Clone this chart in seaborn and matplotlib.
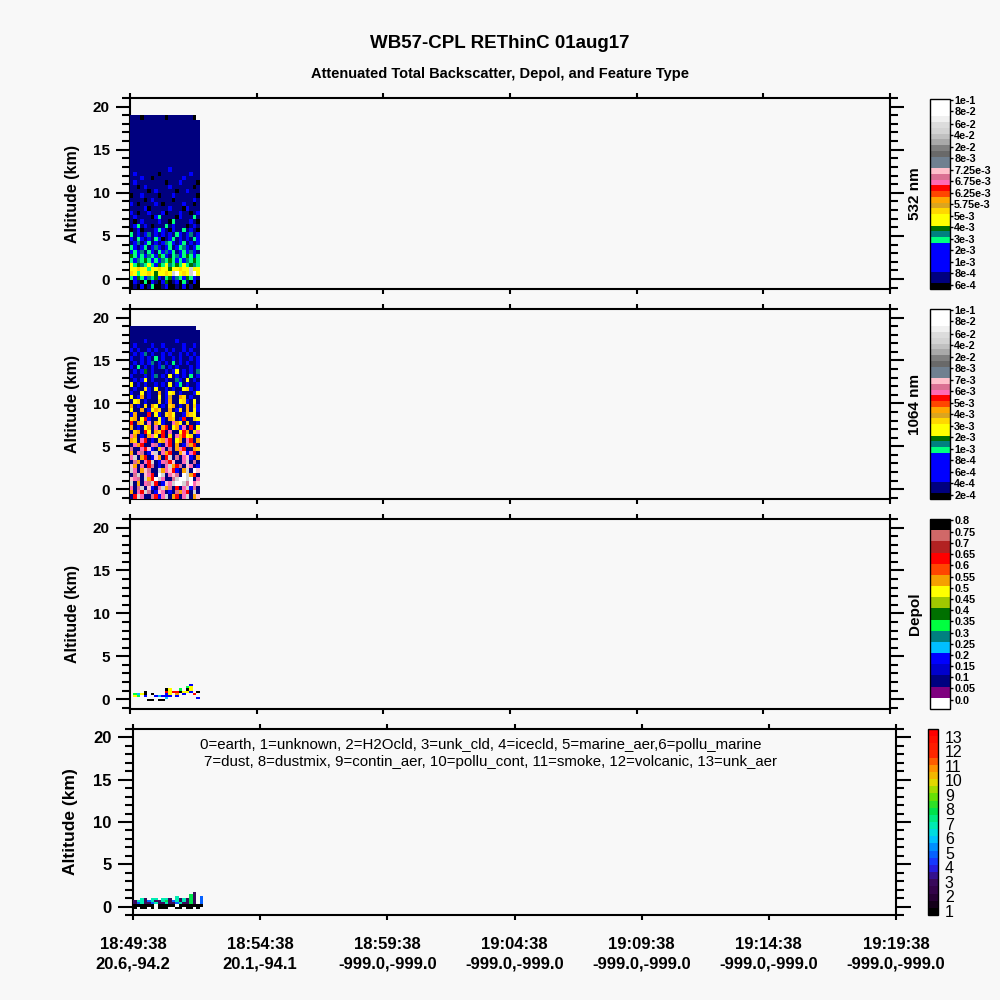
import numpy as np
import matplotlib
matplotlib.use("Agg")
import matplotlib.pyplot as plt
from matplotlib.colors import ListedColormap, LinearSegmentedColormap
from matplotlib.ticker import MultipleLocator
import seaborn as sns

# ---------------- data ----------------
tick_minutes = [0, 5, 10, 15, 20, 25, 30]          # minutes after 18:49:38
time_labels = ['18:49:38', '18:54:38', '18:59:38', '19:04:38',
               '19:09:38', '19:14:38', '19:19:38']
latlon_labels = ['20.6,-94.2', '20.1,-94.1', '-999.0,-999.0', '-999.0,-999.0',
                 '-999.0,-999.0', '-999.0,-999.0', '-999.0,-999.0']
curtain_end = 2.76      # last profile (minutes)
curtain_top = 19.0      # km
curtain_bottom = -1.1   # km

# backscatter colour-level codes, one string per altitude bin (top -> bottom)
bsc532_rows = [
    "nnnknnnnnnknnnnnnnk.", "nnnnnnnnnnnnnnnnnnnn", "nnnnnnnnnnnnnnnnnnnn",
    "nnnnnnnnnnnnnnnnnnnn", "nnnnnnnnnnnnnnnnnnnn", "nnnnnnnnnnnnnnnnnnnn",
    "nnnnnnnnnnnnnnnnnnnn", "nnnnnnnnnnnnnnnnnnnn", "nnnnnnnnnnnnnnnnnnnn",
    "nnnnnnnnnnnnnnnnnnnn", "nnnnnnnnnnnnnnnnnnnn", "nnnnnnnnnnnnnnnnnnnn",
    "nnnnnnnnnnnbnnnnnnnn", "nbnnnnnnknnnnnnnnbnn", "nnnbnnknnnnnnnnbnnnn",
    "nbnnnnnnnnknnnbnnnnk", "nnknbnnnnnnbnnnnnnkn", "nnnnnknbnnnnnknnbnnn",
    "knnbnnnnknnnbnnnnnnk", "nnnnknbnnnnnknnnnnbn", "bnknnnnbnknnnnnbnnkn",
    "nnnnbknnnnnbnnnkbnnn", "bnknnbnnnbknnnbnnknb", "nbnnnnkbsnnnnkbnnnsn",
    "nknbnnnnbnnksnnnnbnk", "nbsnbnknnnsnbnnnknbn", "knbknnnbsbnkbnnsnbnk",
    "snbnbtnbnbnbnsbnbtnb", "bnsbnbnsbknbsnbnbnsb", "nbtnbsnbnbtsbnbsnbnb",
    "sbnbsnbtbnbsnbstbnbs", "bsbtnsbnsbtbsnbsbtbn", "gsbsbtsbgsbnstbsgsbs",
    "sbtsgsbsbtsgsbsbtsgs", "ysgtsysbgsytsgsysgts", "yyoyysyyoyygyyoyycyy",
    "oysyyoygyyoycwyoycwy", "sbgsbtsgbnsgbtsbgsbn", "kbnkskbnkbgknbksnkbk",
    "knkbknskknbkknkbknkk",
]
bsc1064_rows = [
    "nnnnnnnnnnnnnnnnnnn.", "nnnnnnnnnnnnnnnnnnnn", "nnnnnnnnnnnnnnnnnnnn",
    "nnnnbnnnnnnnnbnnnnnn", "nbnnnnbnnbnnnnnbnnbn", "bnbnnbnbnnbnbnnbnbnn",
    "nbnbtnbnnbnbnnbnbnbn", "bnnbnbnsnbnnbnbnnbnb", "nbnbnbtnbnbnsnbnbnnb",
    "bnsnbnbnbtnbnbnnnbnb", "nbnbgnbnnnbnbynbnbnt", "bnnnbnbtnbnynbnbnsnb",
    "nbnbynbnnnbnntbnynbn", "ynbnbnnbnbnynbsnbnnb", "nbnnobnynnbnbnnyobnb",
    "bnnynbnnanbyonbnnnby", "ynbanbnnynbdnnaonbnn", "nyonbnnnonbannyobnyn",
    "anbnonaynbnoanbnanob", "ynnanbyaonnanbonanyb", "bannnRnybnoaynnbaoyn",
    "oanyRbnnybnaonbRnnoy", "Rnaonpnaybnnpaynonnb", "anbnyanpnaRnyabpnRny",
    "noanRynaoRnpnnyRanop", "panbnapynRnonpaRyonb", "aonpRnbnoapRnyanpRna",
    "npaRnnpvbnpRnanbvaRn", "vnnpRibnopnvnapRnnao", "anpvnbicnpaRnnaibpRn",
    "pcnaRnbianRcnvnpibna", "nvanpRcnbpvRinnpcnvn", "ianpnRvnbnpcaRvnipnb",
    "cpnaivnncapiRbnacnwi", "nvcnipRnwcnpivnwcaRn", "ipvncaRwcpnnvcwwcwnp",
    "cnanpvcRnbipcwwcvwpi", "pnvcnibnpcavnRnpcbvn", "anpRcvnbipnbnvapRncn",
    "nRcpnnvRbpcnaRnpcnai",
]
bsc_levels = {'k': 0, 'n': 1, 'b': 3, 's': 8, 't': 9, 'g': 10, 'y': 11,
              'o': 13, 'd': 14, 'a': 15, 'r': 16, 'R': 17, 'p': 18, 'v': 19,
              'i': 20, 'l': 21, 'm': 23, 'e': 25, 'c': 27, 'w': 31}

# depolarization level codes (0.25 km bins, 2.0 km -> -0.5 km)
depol_top, depol_bottom = 2.0, -0.5
depol_rows = [
    "....................",
    ".................4..",
    "................7a..",
    "..........ga..7.ga..",
    "....g.....daddgaa4.g",
    ".75ag.g...4a.b.4..d.",
    ".a7.4..45444.4......",
    "..........5........4",
    ".....gg.gg..........",
    "....................",
]
depol_levels = {str(i): i for i in range(10)}
depol_levels.update({'a': 10, 'b': 11, 'c': 12, 'd': 13, 'e': 14, 'f': 15, 'g': 16})

# feature type (0.25 km bins, 1.75 km -> -0.25 km), hex digit = type
ftype_top, ftype_bottom = 1.75, -0.25
ftype_rows = [
    ".................3..",
    "................83..",
    "............7...83.5",
    "..73.77.773.737383.5",
    "377357337835737383.5",
    "357335733733573383.5",
    "000000.00000.0000000",
    "0.00.0.000..00.00.0.",
]

bsc532_ticklabels = ['6e-4', '8e-4', '1e-3', '2e-3', '3e-3', '4e-3', '5e-3',
                     '5.75e-3', '6.25e-3', '6.75e-3', '7.25e-3', '8e-3',
                     '2e-2', '4e-2', '6e-2', '8e-2', '1e-1']
bsc1064_ticklabels = ['2e-4', '4e-4', '6e-4', '8e-4', '1e-3', '2e-3', '3e-3',
                      '4e-3', '5e-3', '6e-3', '7e-3', '8e-3',
                      '2e-2', '4e-2', '6e-2', '8e-2', '1e-1']
depol_ticklabels = ['0.0', '0.05', '0.1', '0.15', '0.2', '0.25', '0.3', '0.35',
                    '0.4', '0.45', '0.5', '0.55', '0.6', '0.65', '0.7', '0.75', '0.8']
ftype_ticks = list(range(1, 14))
ftype_legend = ["0=earth, 1=unknown, 2=H2Ocld, 3=unk_cld, 4=icecld, 5=marine_aer,6=pollu_marine",
                "7=dust, 8=dustmix, 9=contin_aer, 10=pollu_cont, 11=smoke, 12=volcanic, 13=unk_aer"]

# ---------------- colour tables ----------------
bsc_colors = (['#000000'] + ['#00007f'] * 2 + ['#0000ff'] * 5 +
              ['#00ff7f', '#008080', '#007000'] + ['#ffff00'] * 2 +
              ['#ffd700', '#daa520', '#ffa500', '#ff4500', '#ff0000',
               '#ff69b4', '#db7093', '#ffc0cb'] + ['#708090'] * 2 +
              ['#696969', '#808080', '#a9a9a9', '#c0c0c0', '#d3d3d3',
               '#dcdcdc', '#f0f0f0'] + ['#ffffff'] * 3)
bsc_cmap = ListedColormap(bsc_colors)
depol_colors = ['#ffffff', '#7f007f', '#000080', '#0000cd', '#0000ff', '#00bfff',
                '#008080', '#00ff40', '#007000', '#a0c800', '#ffff00', '#f5a000',
                '#ff4500', '#ff0000', '#b22222', '#d06868', '#000000']
depol_cmap = ListedColormap(depol_colors)
ft_lo, ft_hi = 0.7, 13.55
ft_anchor = [(0.7, '#000000'), (2.0, '#300040'), (3.0, '#3c0c64'), (4.0, '#2020ff'),
             (5.0, '#0070ff'), (6.0, '#00d0ff'), (7.0, '#00f0a8'), (8.0, '#00e040'),
             (9.0, '#70e000'), (10.0, '#e8d800'), (11.0, '#ff9000'), (12.0, '#ff2800'),
             (13.55, '#ff0000')]
ft_cmap = LinearSegmentedColormap.from_list(
    'ftype', [((v - ft_lo) / (ft_hi - ft_lo), c) for v, c in ft_anchor], N=26)

# ---------------- style ----------------
bg = '#f8f8f8'
sns.set_style("ticks", {"axes.edgecolor": "black", "xtick.color": "black",
                        "ytick.color": "black", "text.color": "black",
                        "axes.facecolor": bg, "figure.facecolor": bg})
plt.rcParams['font.family'] = ['Liberation Sans', 'DejaVu Sans']
plt.rcParams['font.weight'] = 'bold'


def to_matrix(rows, codes, offset):
    return np.array([[codes[ch] + offset if ch in codes else np.nan
                      for ch in row.ljust(20, '.')[:20]] for row in rows], dtype=float)


def style_axis(ax, ylo, yhi, ysize, ylen):
    ax.set_xlim(0, 30)
    ax.set_ylim(ylo, yhi)
    ax.set_xticks(tick_minutes)
    ax.yaxis.set_major_locator(MultipleLocator(5))
    ax.yaxis.set_minor_locator(MultipleLocator(1))
    ax.tick_params(axis='y', which='major', left=True, right=True, direction='out',
                   length=ylen, width=1.5, labelsize=ysize, pad=4.5)
    ax.tick_params(axis='y', which='minor', left=True, right=True, direction='out',
                   length=6, width=1.5)
    ax.tick_params(axis='x', which='major', top=True, bottom=True, direction='out',
                   length=3.5, width=1.5)
    for sp in ax.spines.values():
        sp.set_linewidth(1.5)
        sp.set_visible(True)


def draw_curtain(ax, cax, matrix, top, bottom, cmap, vmin, vmax):
    ins = ax.inset_axes([0, bottom, curtain_end, top - bottom], transform=ax.transData)
    sns.heatmap(matrix, ax=ins, cmap=cmap, vmin=vmin, vmax=vmax, cbar_ax=cax,
                xticklabels=False, yticklabels=False)
    ins.set_axis_off()
    cb = ins.collections[0].colorbar
    cb.outline.set_linewidth(1.0)
    cb.outline.set_edgecolor('black')
    return cb


fig = plt.figure(figsize=(10, 10), dpi=100)
ax1 = fig.add_axes([0.130, 0.711, 0.760, 0.191])
ax2 = fig.add_axes([0.130, 0.501, 0.760, 0.190])
ax3 = fig.add_axes([0.130, 0.291, 0.760, 0.190])
ax4 = fig.add_axes([0.133, 0.085, 0.763, 0.186])
cax1 = fig.add_axes([0.930, 0.711, 0.020, 0.190])
cax2 = fig.add_axes([0.930, 0.501, 0.020, 0.190])
cax3 = fig.add_axes([0.930, 0.291, 0.020, 0.190])
cax4 = fig.add_axes([0.928, 0.085, 0.010, 0.186])

for ax in (ax1, ax2, ax3):
    style_axis(ax, -1.15, 21.0, 11, 10)
    ax.tick_params(axis='x', labelbottom=False)
style_axis(ax4, -1.0, 21.0, 12, 11)
ax4.set_xticks(tick_minutes, [f'{t}\n{p}' for t, p in zip(time_labels, latlon_labels)])
ax4.tick_params(axis='x', labelsize=12, pad=12)
for lab in ax4.get_xticklabels():
    lab.set_linespacing(1.4)

# backscatter curtains
bsc_ticks = [0.7 + 2 * k for k in range(15)] + [30.95, 32.75]
cb1 = draw_curtain(ax1, cax1, to_matrix(bsc532_rows, bsc_levels, 0.5),
                   curtain_top, curtain_bottom, bsc_cmap, 0, 33)
cb1.set_ticks(bsc_ticks, labels=bsc532_ticklabels)
cb2 = draw_curtain(ax2, cax2, to_matrix(bsc1064_rows, bsc_levels, 0.5),
                   curtain_top, curtain_bottom, bsc_cmap, 0, 33)
cb2.set_ticks(bsc_ticks, labels=bsc1064_ticklabels)

# depol
cb3 = draw_curtain(ax3, cax3, to_matrix(depol_rows, depol_levels, 0.5),
                   depol_top, depol_bottom, depol_cmap, 0, 17)
cb3.set_ticks([0.84 + k for k in range(15)] + [15.8, 16.95], labels=depol_ticklabels)

# feature type
ft_codes = {format(i, 'x'): i for i in range(14)}
cb4 = draw_curtain(ax4, cax4, to_matrix(ftype_rows, ft_codes, 0),
                   ftype_top, ftype_bottom, ft_cmap, ft_lo, ft_hi)
cb4.set_ticks(ftype_ticks, labels=[str(v) for v in ftype_ticks])

for cb in (cb1, cb2, cb3):
    cb.ax.tick_params(labelsize=7.8, length=2, width=1, pad=1)
cb4.ax.tick_params(labelsize=11.5, length=0, pad=5)
for lab in cb4.ax.get_yticklabels():
    lab.set_fontweight('normal')

# text
fig.text(0.5, 0.957, 'WB57-CPL REThinC 01aug17', ha='center', va='center',
         fontsize=13.5, fontweight='bold')
fig.text(0.5, 0.926, 'Attenuated Total Backscatter, Depol, and Feature Type',
         ha='center', va='center', fontsize=10.5, fontweight='bold')
for yc in (0.806, 0.596, 0.386):
    fig.text(0.073, yc, 'Altitude (km)', rotation=90, ha='center', va='center',
             fontsize=11.5, fontweight='bold')
fig.text(0.0705, 0.178, 'Altitude (km)', rotation=90, ha='center', va='center',
         fontsize=12.5, fontweight='bold')
for name, yc in (('532 nm', 0.806), ('1064 nm', 0.596), ('Depol', 0.386)):
    fig.text(0.915, yc, name, rotation=90, ha='center', va='center',
             fontsize=11, fontweight='bold')
fig.text(0.481, 0.255, ftype_legend[0], ha='center', va='center',
         fontsize=10.8, fontweight='normal')
fig.text(0.4905, 0.238, ftype_legend[1], ha='center', va='center',
         fontsize=10.8, fontweight='normal')

fig.savefig('out.png', dpi=100, facecolor=bg)
